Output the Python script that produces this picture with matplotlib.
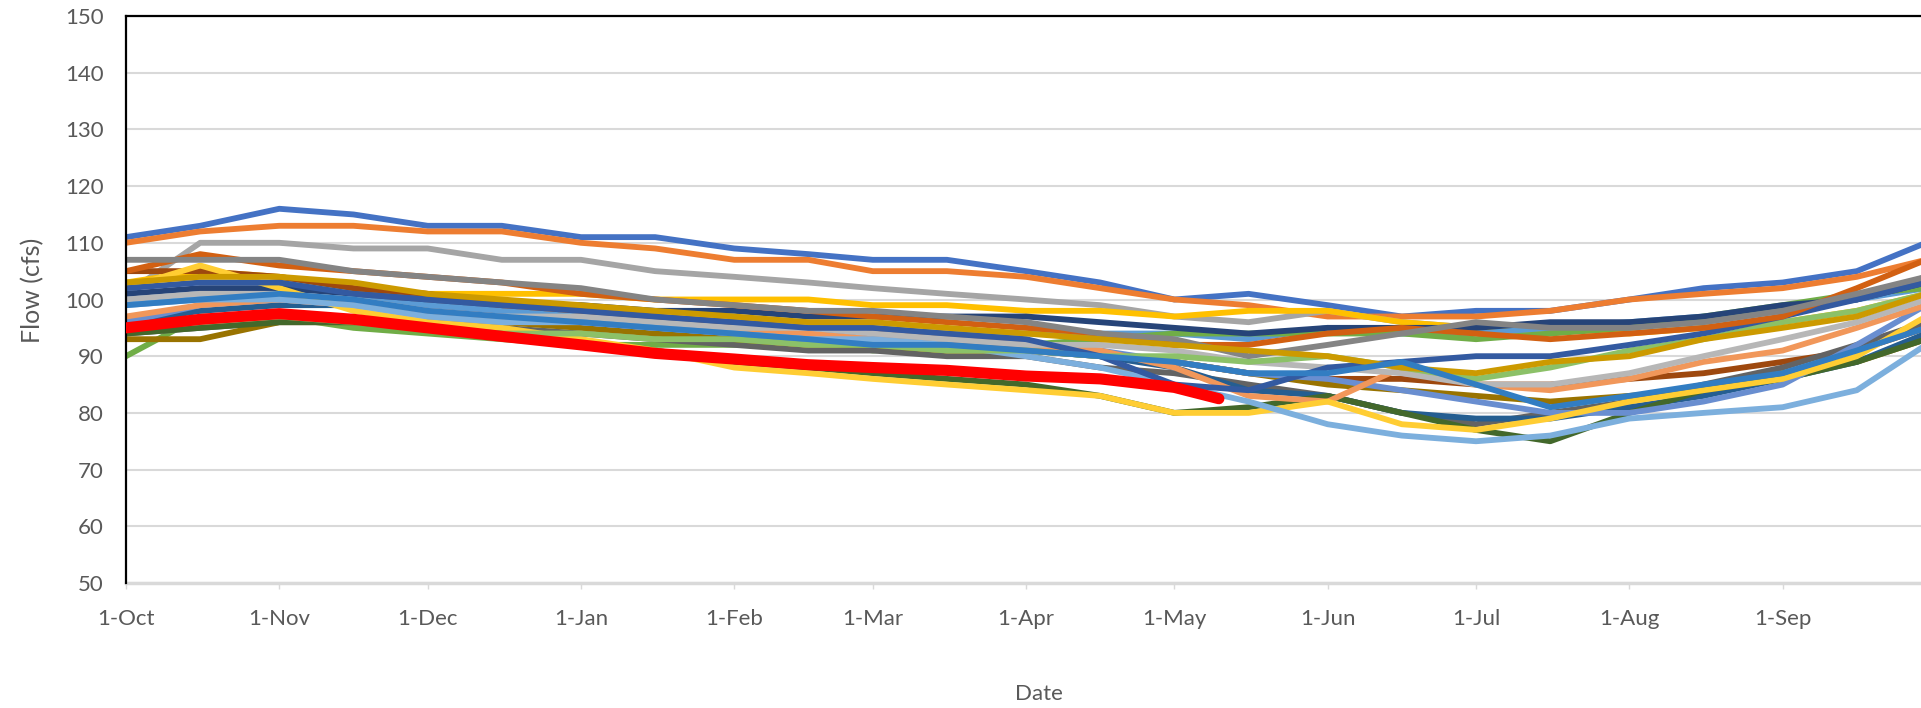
import numpy as np
import pandas as pd
import matplotlib
matplotlib.use("Agg")
import matplotlib.pyplot as plt
import matplotlib.dates as mdates

# sample dates (one water year), roughly twice a month
dates = pd.to_datetime([
    "2022-10-01", "2022-10-16", "2022-11-01", "2022-11-16", "2022-12-01",
    "2022-12-16", "2023-01-01", "2023-01-16", "2023-02-01", "2023-02-16",
    "2023-03-01", "2023-03-16", "2023-04-01", "2023-04-16", "2023-05-01",
    "2023-05-16", "2023-06-01", "2023-06-16", "2023-07-01", "2023-07-16",
    "2023-08-01", "2023-08-16", "2023-09-01", "2023-09-16", "2023-09-30",
])

# past years, flow in cfs at the dates above
past_years = [
    ("#4472C4", [111, 113, 116, 115, 113, 113, 111, 111, 109, 108, 107, 107, 105, 103, 100, 101, 99, 97, 98, 98, 100, 102, 103, 105, 110]),
    ("#ED7D31", [110, 112, 113, 113, 112, 112, 110, 109, 107, 107, 105, 105, 104, 102, 100, 99, 97, 97, 97, 98, 100, 101, 102, 104, 107]),
    ("#A5A5A5", [101, 110, 110, 109, 109, 107, 107, 105, 104, 103, 102, 101, 100, 99, 97, 96, 98, 96, 95, 94, 96, 96, 98, 100, 104]),
    ("#FFC000", [103, 105, 104, 102, 101, 101, 101, 100, 100, 100, 99, 99, 98, 98, 97, 98, 98, 96, 95, 95, 94, 95, 96, 98, 101]),
    ("#5B9BD5", [100, 101, 101, 100, 99, 98, 97, 96, 96, 95, 95, 94, 94, 94, 94, 93, 95, 94, 94, 95, 96, 97, 98, 100, 102]),
    ("#70AD47", [90, 97, 97, 95, 94, 93, 92, 92, 92, 93, 91, 92, 92, 93, 94, 94, 94, 94, 93, 94, 95, 97, 99, 101, 102]),
    ("#264478", [101, 102, 102, 101, 100, 99, 99, 98, 98, 97, 97, 97, 97, 96, 95, 94, 95, 95, 95, 96, 96, 97, 99, 100, 103]),
    ("#9E480E", [105, 105, 104, 102, 101, 99, 98, 97, 96, 95, 94, 93, 92, 90, 89, 87, 86, 86, 85, 85, 86, 87, 89, 91, 95]),
    ("#636363", [94, 95, 96, 96, 96, 95, 94, 93, 92, 91, 91, 90, 90, 88, 87, 85, 83, 80, 78, 80, 82, 85, 88, 92, 96]),
    ("#997300", [93, 93, 96, 96, 96, 96, 95, 94, 93, 92, 92, 91, 91, 90, 89, 87, 85, 84, 83, 82, 83, 84, 87, 89, 93]),
    ("#255E91", [96, 98, 99, 99, 98, 97, 96, 95, 94, 93, 93, 92, 91, 90, 88, 84, 83, 80, 79, 79, 81, 83, 86, 89, 94]),
    ("#43682B", [94, 95, 96, 96, 95, 94, 92, 91, 89, 88, 87, 86, 85, 83, 80, 81, 83, 80, 77, 75, 80, 84, 86, 89, 93]),
    ("#698ED0", [96, 99, 100, 99, 98, 97, 96, 95, 95, 94, 93, 93, 92, 91, 89, 87, 86, 84, 82, 80, 80, 82, 85, 92, 99]),
    ("#F1975A", [97, 99, 100, 99, 97, 96, 96, 95, 95, 94, 93, 93, 92, 91, 88, 83, 82, 88, 85, 84, 86, 89, 91, 95, 99]),
    ("#B7B7B7", [100, 101, 101, 100, 98, 97, 97, 96, 95, 95, 94, 93, 92, 92, 91, 89, 88, 87, 85, 85, 87, 90, 93, 96, 100]),
    ("#FFCD33", [102, 106, 102, 98, 96, 95, 93, 91, 88, 87, 86, 85, 84, 83, 80, 80, 82, 78, 77, 79, 82, 84, 86, 90, 97]),
    ("#7CAFDD", [99, 100, 100, 99, 97, 96, 96, 95, 94, 93, 93, 92, 90, 88, 85, 82, 78, 76, 75, 76, 79, 80, 81, 84, 92]),
    ("#8CC168", [95, 96, 97, 96, 95, 94, 94, 93, 93, 92, 92, 91, 91, 90, 90, 89, 90, 88, 86, 88, 91, 93, 96, 98, 101]),
    ("#335AA1", [102, 103, 103, 101, 100, 99, 98, 97, 96, 95, 95, 94, 93, 90, 85, 84, 88, 89, 90, 90, 92, 94, 97, 100, 103]),
    ("#D26012", [105, 108, 106, 105, 104, 103, 101, 100, 99, 98, 97, 96, 95, 94, 92, 92, 94, 95, 94, 93, 94, 95, 97, 102, 107]),
    ("#848484", [107, 107, 107, 105, 104, 103, 102, 100, 99, 98, 98, 97, 96, 94, 93, 90, 92, 94, 96, 95, 95, 96, 98, 101, 104]),
    ("#CC9A00", [103, 104, 104, 103, 101, 100, 99, 98, 97, 96, 96, 95, 94, 93, 92, 91, 90, 88, 87, 89, 90, 93, 95, 97, 101]),
    ("#327DC2", [99, 100, 101, 100, 98, 97, 96, 95, 94, 93, 92, 92, 91, 90, 89, 87, 87, 89, 85, 81, 83, 85, 87, 91, 95]),
]

# current year (to date)
current_dates = pd.to_datetime([
    "2022-10-01", "2022-10-16", "2022-11-01", "2022-11-16", "2022-12-01",
    "2022-12-16", "2023-01-01", "2023-01-16", "2023-02-01", "2023-02-16",
    "2023-03-01", "2023-03-16", "2023-04-01", "2023-04-16", "2023-05-01",
    "2023-05-10",
])
current_flow = [95, 96.5, 97.5, 96.5, 95, 93.5, 92, 90.5, 89.5, 88.5,
                88, 87.5, 86.5, 86, 84.5, 82.5]

font = ["Lato", "DejaVu Sans"]

fig = plt.figure(figsize=(19.21, 7.08), dpi=100)
# plot area runs a bit past the right edge, as in the cropped original
ax = fig.add_axes([126 / 1921, 125 / 708, 1805 / 1921, 567 / 708])

for color, flow in past_years:
    ax.plot(dates, flow, color=color, lw=4.2, solid_joinstyle="round", zorder=2)
ax.plot(current_dates, current_flow, color="#FF0000", lw=8, solid_capstyle="round", zorder=3)

ax.set_ylim(50, 150)
ax.set_yticks(range(50, 151, 10))
ax.set_xlim(pd.Timestamp("2022-10-01"), pd.Timestamp("2023-10-01"))
ax.set_xticks(pd.date_range("2022-10-01", "2023-09-01", freq="MS"))
ax.xaxis.set_major_formatter(mdates.DateFormatter("%-d-%b"))

ax.grid(axis="y", color="#D9D9D9", lw=1.5, zorder=0)
ax.set_axisbelow(True)
for s in ["right", "bottom"]:
    ax.spines[s].set_visible(False)
ax.spines["left"].set_color("black")
ax.spines["left"].set_linewidth(1.6)
ax.spines["top"].set_color("black")
ax.spines["top"].set_linewidth(1.6)
ax.axhline(50, color="#D9D9D9", lw=2.5, zorder=1, clip_on=False)

ax.tick_params(axis="y", length=0, pad=16, labelsize=16, labelcolor="#595959")
ax.tick_params(axis="x", length=4.5, width=1, color="#D9D9D9", pad=14,
               labelsize=16, labelcolor="#595959")
for lbl in ax.get_xticklabels() + ax.get_yticklabels():
    lbl.set_family(font)

ax.set_ylabel("Flow (cfs)", fontsize=18, color="#595959", family=font)
ax.set_xlabel("Date", fontsize=16, color="#595959", family=font)
ax.xaxis.set_label_coords((1039 - 126) / 1805, -(684 - 583) / 567)
ax.yaxis.set_label_coords(-(126 - 44) / 1805, (583 - 290) / 567)

fig.savefig("out.png", dpi=100)
